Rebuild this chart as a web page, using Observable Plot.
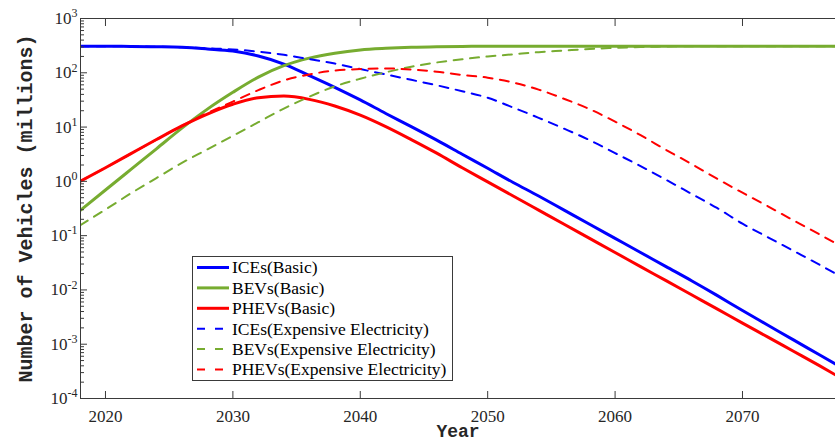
<!DOCTYPE html>
<html>
<head>
<meta charset="utf-8">
<script src="https://cdn.jsdelivr.net/npm/d3@7"></script>
<script src="https://cdn.jsdelivr.net/npm/@observablehq/plot@0.6"></script>
<style>
  html, body { margin: 0; padding: 0; background: #fff; }
  #chart { width: 835px; height: 445px; overflow: hidden; }
  #chart svg { display: block; }
</style>
</head>
<body>
<div id="chart"></div>
<script>
// ---- Data ----
const years = [2018, 2020, 2022, 2024, 2026, 2028, 2030, 2032, 2034, 2036, 2038, 2040, 2042, 2044, 2046,
  2048, 2050, 2052, 2054, 2056, 2058, 2060, 2062, 2064, 2066, 2068, 2070, 2072, 2074, 2076, 2078];

const iceBasic = [309, 309, 305, 302, 295, 275, 251, 204, 145, 89, 54, 31.6, 17.8, 10.2, 5.75, 3.16, 1.74,
  0.955, 0.537, 0.295, 0.162, 0.0891, 0.049, 0.0269, 0.0148, 0.00794, 0.00417, 0.00224, 0.0012, 0.000646, 0.000347];
const bevBasic = [0.288, 0.692, 1.66, 3.98, 9.55, 21.4, 43.7, 83.2, 135, 186, 229, 263, 282, 295, 302, 305, 309,
  309, 309, 309, 309, 309, 309, 309, 309, 309, 309, 309, 309, 309, 309];
const phevBasic = [1.0, 1.78, 3.24, 5.89, 10.5, 17.4, 26.3, 34.7, 37.2, 32.4, 24.5, 16.6, 10.2, 5.89, 3.31, 1.78,
  0.977, 0.537, 0.295, 0.162, 0.0891, 0.049, 0.0269, 0.0148, 0.00813, 0.00447, 0.00245, 0.00135, 0.000741, 0.000407, 0.000219];
const iceExpensive = [309, 309, 305, 302, 295, 282, 269, 245, 214, 178, 148, 117, 93.3, 74.1, 58.9, 45.7, 34.7,
  22.9, 14.8, 9.33, 5.75, 3.31, 1.91, 1.07, 0.589, 0.324, 0.166, 0.0933, 0.0525, 0.0295, 0.0162];
const bevExpensive = [0.155, 0.302, 0.603, 1.15, 2.19, 3.89, 6.92, 12.3, 21.9, 36.3, 56.2, 77.6, 102, 129, 155, 178,
  200, 219, 240, 257, 275, 288, 299, 305, 309, 309, 309, 309, 309, 309, 309];
const phevExpensive = [1.0, 1.78, 3.24, 5.89, 10.5, 18.2, 29.5, 47.9, 72.4, 93.3, 110, 117, 120, 115, 105, 91.2,
  81.3, 66.1, 49, 33.1, 21.4, 12.6, 7.08, 3.8, 2.09, 1.12, 0.617, 0.347, 0.191, 0.107, 0.0589];

const seriesNames = ["ICEs(Basic)", "BEVs(Basic)", "PHEVs(Basic)",
  "ICEs(Expensive Electricity)", "BEVs(Expensive Electricity)", "PHEVs(Expensive Electricity)"];
const seriesValues = [iceBasic, bevBasic, phevBasic, iceExpensive, bevExpensive, phevExpensive];
const seriesColors = ["#0000ff", "#77ac30", "#ff0000", "#0000ff", "#77ac30", "#ff0000"];
const seriesDashed = [false, false, false, true, true, true];

const xTicks = [2020, 2030, 2040, 2050, 2060, 2070];
const yTicks = [1e-4, 1e-3, 1e-2, 1e-1, 1, 10, 100, 1000];
const xDomain = [2018.04, 2077.3];
const yDomain = [1e-4, 1e3];

const xLabel = "Year";
const yLabel = "Number of Vehicles (millions)";

// ---- Build ----
const axisColor = "#3a3a3a";
const dash = "9,7.5";
const serif = "'Liberation Serif', 'Times New Roman', serif";
const mono = "'Liberation Mono', 'Courier New', monospace";

const yMinor = d3.range(-4, 3).flatMap(e => d3.range(2, 10).map(m => m * Math.pow(10, e)));

const lineMarks = seriesNames.map((name, i) => {
  const rows = years.map((yr, j) => ({year: yr, value: seriesValues[i][j], series: name}));
  return Plot.line(rows, {
    x: "year", y: "value",
    stroke: seriesColors[i],
    strokeWidth: seriesDashed[i] ? 2 : 3,
    strokeDasharray: seriesDashed[i] ? dash : null,
    curve: "monotone-x",
    clip: true
  });
});

const chart = Plot.plot({
  width: 835,
  height: 445,
  marginLeft: 80,
  marginRight: 0,
  marginTop: 18,
  marginBottom: 47,
  style: {fontFamily: serif, fontSize: "17px", background: "#fff", color: "#262626"},
  x: {domain: xDomain, label: null},
  y: {type: "log", domain: yDomain, label: null},
  marks: [
    ...lineMarks,
    // frame lines (left, top, bottom)
    Plot.ruleX([xDomain[0]], {stroke: axisColor, strokeWidth: 1}),
    Plot.ruleY([yDomain[0], yDomain[1]], {stroke: axisColor, strokeWidth: 1}),
    // y ticks (inward)
    Plot.axisY(yTicks, {anchor: "left", tickSize: 7, dx: 7, tickFormat: () => "", stroke: axisColor, label: null}),
    Plot.axisY(yMinor, {anchor: "left", tickSize: 4, dx: 4, tickFormat: () => "", stroke: axisColor, label: null}),
    Plot.axisY(yTicks, {anchor: "left", tickSize: 0, tickPadding: 3, label: null,
      tickFormat: d => "10^" + Math.round(Math.log10(d)), fontSize: 17, fontFamily: serif, fill: "#262626"}),
    // x ticks (inward, bottom and top)
    Plot.axisX(xTicks, {anchor: "bottom", tickSize: 7, dy: -7, tickFormat: () => "", stroke: axisColor, label: null}),
    Plot.axisX(xTicks, {anchor: "top", tickSize: 7, dy: 7, tickFormat: () => "", stroke: axisColor, label: null}),
    Plot.axisX(xTicks, {anchor: "bottom", tickSize: 0, tickPadding: 11, label: null,
      tickFormat: d => String(d), fontSize: 17, fontFamily: serif, fill: "#262626"}),
    // axis titles
    Plot.text([yLabel], {text: d => d, frameAnchor: "left", textAnchor: "middle", dx: -55, rotate: -90,
      lineAnchor: "middle", fontFamily: mono, fontWeight: "bold", fontSize: 20, fill: "#262626"}),
    Plot.text([xLabel], {text: d => d, frameAnchor: "bottom", textAnchor: "middle", dy: 33,
      lineAnchor: "middle", fontFamily: mono, fontWeight: "bold", fontSize: 18, fill: "#262626"})
  ]
});

document.getElementById("chart").appendChild(chart);

// Superscript exponents on the y tick labels
const svg = d3.select(chart);
svg.selectAll('g[aria-label="y-axis tick label"] text').each(function() {
  const t = d3.select(this);
  const s = t.text();
  if (!s.startsWith("10^")) return;
  const exp = s.slice(3);
  t.text(null);
  t.append("tspan").text("10");
  t.append("tspan").attr("dy", "-0.55em").attr("font-size", "12px").text(exp);
});

// Legend (drawn into the same SVG)
const lg = svg.append("g").attr("aria-label", "legend").attr("text-anchor", "start");
const lgX = 192, lgY = 256, lgW = 260, lgH = 124, rowH = 20.4, row0 = 267.5;
lg.append("rect").attr("x", lgX + 0.5).attr("y", lgY + 0.5).attr("width", lgW).attr("height", lgH)
  .attr("fill", "#fff").attr("stroke", axisColor).attr("stroke-width", 1);
seriesNames.forEach((name, i) => {
  const y = row0 + i * rowH;
  lg.append("line").attr("x1", 197).attr("x2", 229).attr("y1", y).attr("y2", y)
    .attr("stroke", seriesColors[i]).attr("stroke-width", seriesDashed[i] ? 2 : 3)
    .attr("stroke-dasharray", seriesDashed[i] ? "8,10" : null);
  lg.append("text").attr("x", 232).attr("y", y).attr("dy", "0.34em").attr("text-anchor", "start")
    .attr("font-family", serif).attr("font-size", 17.5).attr("fill", "#000").text(name);
});
</script>
</body>
</html>
